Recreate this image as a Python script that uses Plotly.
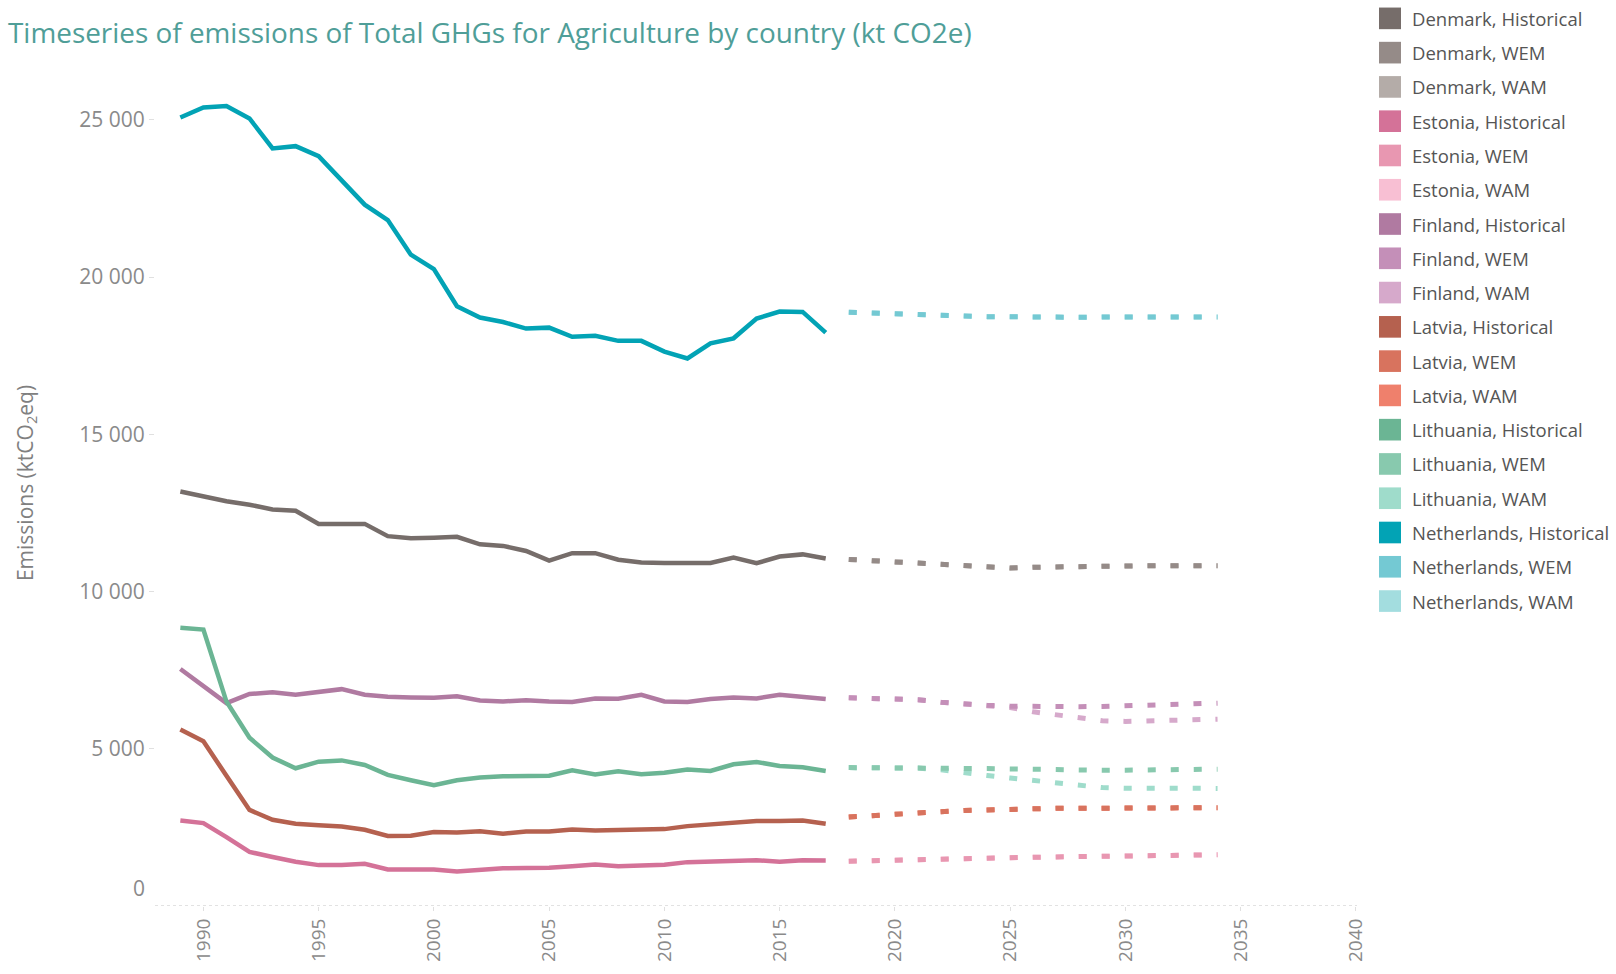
import plotly.graph_objects as go

# ---------------- DATA ----------------
hist_years = list(range(1989, 2018))
proj_years = list(range(2018, 2035))

denmark_hist = [13180, 13030, 12870, 12760, 12610, 12570, 12150, 12150, 12150, 11760, 11690, 11710, 11740, 11500, 11450,
                11290, 10980, 11220, 11220, 11010, 10920, 10910, 10910, 10910, 11080, 10900, 11110, 11180, 11050]
denmark_wem = [11020, 10980, 10940, 10900, 10860, 10810, 10760, 10745, 10770, 10785, 10795, 10805, 10815, 10820, 10820, 10820, 10820]
denmark_wam = [11020, 10980, 10940, 10900, 10860, 10810, 10760, 10745, 10770, 10785, 10795, 10805, 10815, 10820, 10820, 10820, 10820]

estonia_hist = [2720, 2635, 2190, 1720, 1560, 1405, 1300, 1300, 1340, 1160, 1160, 1160, 1100, 1160, 1200,
                1205, 1215, 1265, 1320, 1265, 1285, 1310, 1395, 1425, 1455, 1455, 1405, 1455, 1450]
estonia_wem = [1425, 1445, 1460, 1470, 1485, 1508, 1525, 1535, 1550, 1561, 1572, 1588, 1598, 1603, 1610, 1620, 1628]
estonia_wam = [1425, 1445, 1460, 1470, 1485, 1508, 1525, 1535, 1550, 1561, 1572, 1588, 1598, 1603, 1610, 1620, 1628]

finland_hist = [7535, 7010, 6450, 6740, 6800, 6715, 6800, 6895, 6715, 6650, 6630, 6620, 6670, 6535, 6505,
                6545, 6505, 6485, 6600, 6590, 6715, 6505, 6485, 6580, 6630, 6600, 6715, 6660, 6580]
finland_wem = [6620, 6600, 6580, 6560, 6480, 6415, 6385, 6355, 6340, 6337, 6337, 6345, 6370, 6390, 6410, 6430, 6450]
finland_wam = [6620, 6600, 6580, 6560, 6480, 6415, 6385, 6310, 6175, 6070, 5980, 5890, 5870, 5895, 5915, 5930, 5940]

latvia_hist = [5610, 5240, 4140, 3055, 2740, 2615, 2570, 2530, 2425, 2225, 2235, 2350, 2340, 2380, 2300,
               2370, 2370, 2435, 2400, 2425, 2435, 2445, 2540, 2600, 2675, 2705, 2705, 2720, 2615]
latvia_wem = [2830, 2880, 2930, 2965, 3000, 3040, 3065, 3085, 3100, 3105, 3108, 3108, 3110, 3115, 3120, 3122, 3125]
latvia_wam = [2830, 2880, 2930, 2965, 3000, 3040, 3065, 3085, 3100, 3105, 3108, 3108, 3110, 3115, 3120, 3122, 3125]

lithuania_hist = [8850, 8790, 6500, 5350, 4720, 4380, 4590, 4630, 4485, 4170, 4000, 3845, 4000, 4085, 4125,
                  4140, 4140, 4315, 4180, 4285, 4190, 4235, 4340, 4295, 4505, 4580, 4455, 4410, 4295]
lithuania_wem = [4400, 4402, 4400, 4385, 4370, 4375, 4370, 4352, 4348, 4338, 4320, 4317, 4320, 4332, 4343, 4350, 4350]
lithuania_wam = [4400, 4402, 4400, 4385, 4330, 4225, 4150, 4070, 4000, 3920, 3830, 3765, 3745, 3745, 3745, 3740, 3740]

netherlands_hist = [25070, 25390, 25440, 25040, 24090, 24160, 23840, 23070, 22300, 21810, 20710, 20250, 19070, 18710, 18570,
                    18360, 18390, 18100, 18130, 17970, 17970, 17630, 17410, 17890, 18050, 18680, 18900, 18890, 18230]
netherlands_wem = [18880, 18850, 18810, 18790, 18780, 18760, 18740, 18730, 18720, 18720, 18720, 18730, 18730, 18730, 18730, 18730, 18730]
netherlands_wam = [18880, 18850, 18810, 18790, 18780, 18760, 18740, 18730, 18720, 18720, 18720, 18730, 18730, 18730, 18730, 18730, 18730]

countries = ["Denmark", "Estonia", "Finland", "Latvia", "Lithuania", "Netherlands"]
scenarios = ["Historical", "WEM", "WAM"]
x_tick_vals = [1990, 1995, 2000, 2005, 2010, 2015, 2020, 2025, 2030, 2035, 2040]
y_tick_vals = [5000, 10000, 15000, 20000, 25000]
y_tick_text = ["5 000", "10 000", "15 000", "20 000", "25 000"]
y_zero_label = "0"

series = {
    ("Denmark", "Historical"): denmark_hist, ("Denmark", "WEM"): denmark_wem, ("Denmark", "WAM"): denmark_wam,
    ("Estonia", "Historical"): estonia_hist, ("Estonia", "WEM"): estonia_wem, ("Estonia", "WAM"): estonia_wam,
    ("Finland", "Historical"): finland_hist, ("Finland", "WEM"): finland_wem, ("Finland", "WAM"): finland_wam,
    ("Latvia", "Historical"): latvia_hist, ("Latvia", "WEM"): latvia_wem, ("Latvia", "WAM"): latvia_wam,
    ("Lithuania", "Historical"): lithuania_hist, ("Lithuania", "WEM"): lithuania_wem, ("Lithuania", "WAM"): lithuania_wam,
    ("Netherlands", "Historical"): netherlands_hist, ("Netherlands", "WEM"): netherlands_wem, ("Netherlands", "WAM"): netherlands_wam,
}

# ---------------- STYLE ----------------
colors = {
    ("Denmark", "Historical"): "#766d6a", ("Denmark", "WEM"): "#958b88", ("Denmark", "WAM"): "#b4aca8",
    ("Estonia", "Historical"): "#d47298", ("Estonia", "WEM"): "#e897b1", ("Estonia", "WAM"): "#f8bfd3",
    ("Finland", "Historical"): "#b07aa1", ("Finland", "WEM"): "#c48fb8", ("Finland", "WAM"): "#d6a9cb",
    ("Latvia", "Historical"): "#b5614f", ("Latvia", "WEM"): "#d8735e", ("Latvia", "WAM"): "#ef806c",
    ("Lithuania", "Historical"): "#6bb594", ("Lithuania", "WEM"): "#88c9ae", ("Lithuania", "WAM"): "#9fdccb",
    ("Netherlands", "Historical"): "#02a3b5", ("Netherlands", "WEM"): "#74c9d3", ("Netherlands", "WAM"): "#a3dddf",
}

FIG_W, FIG_H = 1616, 974
M_L, M_R, M_T, M_B = 155, 259, 70, 54
PW, PH = FIG_W - M_L - M_R, FIG_H - M_T - M_B
Y_TOP = 26582
FONT = "Open Sans"


def px_x(p):
    return (p - M_L) / PW


def px_y(p):
    return (FIG_H - M_B - p) / PH


fig = go.Figure()

for c in countries:
    fig.add_trace(go.Scatter(x=hist_years, y=series[(c, "Historical")], mode="lines",
                             line=dict(color=colors[(c, "Historical")], width=4.5),
                             name=f"{c}, Historical", showlegend=False, hoverinfo="skip"))
for sc in ["WAM", "WEM"]:
    for c in countries:
        fig.add_trace(go.Scatter(x=proj_years, y=series[(c, sc)], mode="lines",
                                 line=dict(color=colors[(c, sc)], width=5, dash="8px,15px"),
                                 name=f"{c}, {sc}", showlegend=False, hoverinfo="skip"))

# manual legend (squares + labels)
shapes = []
annotations = []
row = 0
for c in countries:
    for sc in scenarios:
        cy = 17.5 + row * 34.85
        shapes.append(dict(type="rect", xref="paper", yref="paper",
                           x0=px_x(1379), x1=px_x(1401), y0=px_y(cy - 11), y1=px_y(cy + 11),
                           fillcolor=colors[(c, sc)], line=dict(width=0)))
        annotations.append(dict(xref="paper", yref="paper", x=px_x(1410), y=px_y(cy),
                                xanchor="left", yanchor="middle", showarrow=False,
                                text=f"{c}, {sc}", font=dict(family=FONT, size=18.5, color="#555555")))
        row += 1

# dotted baseline
shapes.append(dict(type="line", xref="paper", yref="y", x0=0, x1=1, y0=0, y1=0,
                   line=dict(color="#d9d9d9", width=1.5, dash="dot")))

# y axis title
annotations.append(dict(xref="paper", yref="paper", x=px_x(26), y=px_y(490), textangle=-90,
                        xanchor="center", yanchor="middle", showarrow=False,
                        text="Emissions (ktCO<sub>2</sub>eq)",
                        font=dict(family=FONT, size=21, color="#808080")))

# bottom value label (raised slightly, as in the reference)
annotations.append(dict(xref="paper", yref="paper", x=px_x(147), y=px_y(902),
                        xanchor="right", yanchor="middle", showarrow=False,
                        text=y_zero_label, font=dict(family=FONT, size=21, color="#8a8a8a")))

fig.update_layout(
    width=FIG_W, height=FIG_H,
    margin=dict(l=M_L, r=M_R, t=M_T, b=M_B, pad=0),
    paper_bgcolor="white", plot_bgcolor="white",
    showlegend=False,
    hovermode=False,
    title=dict(text="Timeseries of emissions of Total GHGs for Agriculture by country (kt CO2e)",
               xref="container", yref="container", x=8 / FIG_W, xanchor="left",
               y=1 - 33 / FIG_H, yanchor="middle",
               font=dict(family=FONT, size=27.9, color="#4f9e98")),
    xaxis=dict(range=[1987.9, 2040.05], tickvals=x_tick_vals, tickangle=-90,
               showgrid=False, zeroline=False, showline=False,
               ticks="outside", ticklen=4, tickcolor="#e0e0e0",
               tickfont=dict(family=FONT, size=19, color="#8a8a8a")),
    yaxis=dict(range=[0, Y_TOP], tickvals=y_tick_vals, ticktext=y_tick_text,
               showgrid=False, zeroline=False, showline=False,
               ticks="outside", ticklen=5, tickcolor="#e0e0e0",
               tickfont=dict(family=FONT, size=21, color="#8a8a8a")),
    shapes=shapes,
    annotations=annotations,
)

post = ("document.documentElement.style.margin='0';document.documentElement.style.overflow='hidden';"
        "document.body.style.margin='0';document.body.style.padding='0';document.body.style.overflow='hidden';"
        "var gd=document.getElementById('{plot_id}');var p=gd.parentElement;"
        "p.style.height='974px';p.style.width='1616px';p.style.overflow='hidden';")

fig.write_html("out.html", post_script=post, config={"displayModeBar": False})
